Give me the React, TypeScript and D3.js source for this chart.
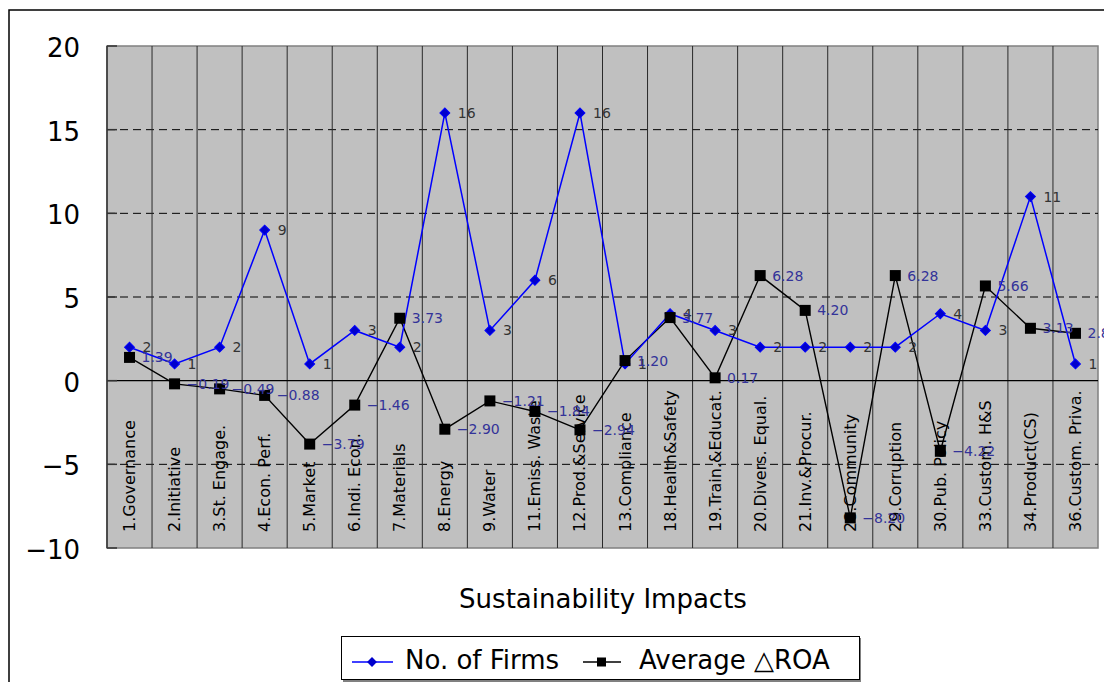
import React from "react";
import * as d3 from "d3";

const categories = [
  "1.Governance", "2.Initiative", "3.St. Engage.", "4.Econ. Perf.", "5.Market",
  "6.Indi. Econ.", "7.Materials", "8.Energy", "9.Water", "11.Emiss. Waste",
  "12.Prod.&Service", "13.Compliance", "18.Health&Safety", "19.Train.&Educat.",
  "20.Divers. Equal.", "21.Inv.&Procur.", "28.Community", "29.Corruption",
  "30.Pub. Policy", "33.Custom. H&S", "34.Product(CS)", "36.Custom. Priva.",
];
const firms = [2, 1, 2, 9, 1, 3, 2, 16, 3, 6, 16, 1, 4, 3, 2, 2, 2, 2, 4, 3, 11, 1];
const avgRoa = [
  1.39, -0.19, -0.49, -0.88, -3.79, -1.46, 3.73, -2.9, -1.21, -1.84, -2.94, 1.2,
  3.77, 0.17, 6.28, 4.2, -8.2, 6.28, -4.22, 5.66, 3.13, 2.83,
];
const yTicks = [20, 15, 10, 5, 0, -5, -10];
const dashedTicks = [15, 10, 5, -5];

const W = 1104;
const H = 682;
const PL = 107;
const PR = 1098;
const PT = 46;
const PB = 548;
const FONT = "'DejaVu Sans', sans-serif";

export default function App() {
  const x = d3.scaleBand<string>().domain(categories).range([PL, PR]).padding(0);
  const y = d3.scaleLinear().domain([-10, 20]).range([PB, PT]);
  const cx = (i: number) => (x(categories[i]) as number) + x.bandwidth() / 2;

  const line = d3
    .line<number>()
    .x((_, i) => cx(i))
    .y((d) => y(d));

  const boundaries = categories.slice(1).map((c) => x(c) as number);
  const fmtMinus = (v: number) => d3.format(".2f")(v).replace("-", "\u2212");

  return (
    <svg
      width={W}
      height={H}
      style={{ position: "absolute", left: 0, top: 0, background: "#fff" }}
      fontFamily={FONT}
    >
      {/* outer frame */}
      <rect x={9} y={10} width={1300} height={900} fill="none" stroke="#000" strokeWidth={1.5} />

      {/* plot area */}
      <rect x={PL} y={PT} width={PR - PL} height={PB - PT} fill="#c0c0c0" stroke="#808080" strokeWidth={1.5} />

      {/* dashed gridlines */}
      {dashedTicks.map((t) => (
        <line key={"g" + t} x1={PL} x2={PR} y1={y(t)} y2={y(t)} stroke="#000" strokeWidth={1} strokeDasharray="8,5" />
      ))}

      {/* vertical category separators */}
      {boundaries.map((b, i) => (
        <line key={"v" + i} x1={b} x2={b} y1={PT} y2={PB} stroke="#2a2a2a" strokeWidth={1} />
      ))}

      {/* zero line */}
      <line x1={PL} x2={PR} y1={y(0)} y2={y(0)} stroke="#000" strokeWidth={1.2} />

      {/* y axis line and ticks */}
      <line x1={PL} x2={PL} y1={PT} y2={PB} stroke="#333" strokeWidth={1.5} />
      {yTicks.map((t) => (
        <g key={"t" + t}>
          <line x1={PL} x2={PL + 10} y1={y(t)} y2={y(t)} stroke="#333" strokeWidth={1.5} />
          <text x={80} y={y(t) + 2} textAnchor="end" dominantBaseline="central" fontSize={26} fill="#000">
            {t < 0 ? "\u2212" + Math.abs(t) : String(t)}
          </text>
        </g>
      ))}

      {/* category labels */}
      {categories.map((c, i) => (
        <text
          key={"c" + i}
          x={cx(i)}
          y={532}
          transform={`rotate(-90, ${cx(i)}, 532)`}
          textAnchor="start"
          dominantBaseline="central"
          fontSize={16}
          fill="#000"
        >
          {c}
        </text>
      ))}

      {/* Average ROA line */}
      <path d={line(avgRoa) as string} fill="none" stroke="#000" strokeWidth={1.4} />
      {/* Firms line */}
      <path d={line(firms) as string} fill="none" stroke="#0000ff" strokeWidth={1.5} />

      {/* Firms markers */}
      {firms.map((v, i) => (
        <rect
          key={"fm" + i}
          x={cx(i) - 3.5}
          y={y(v) - 3.5}
          width={7}
          height={7}
          fill="#0000cc"
          stroke="#0000ff"
          strokeWidth={1}
          transform={`rotate(45, ${cx(i)}, ${y(v)})`}
        />
      ))}
      {/* ROA markers */}
      {avgRoa.map((v, i) => (
        <rect key={"rm" + i} x={cx(i) - 5.5} y={y(v) - 5.5} width={11} height={11} fill="#000" />
      ))}

      {/* Firms labels */}
      {firms.map((v, i) => (
        <text key={"fl" + i} x={cx(i) + 13} y={y(v)} dominantBaseline="central" fontSize={14} fill="#333">
          {v}
        </text>
      ))}
      {/* ROA labels */}
      {avgRoa.map((v, i) => (
        <text key={"rl" + i} x={cx(i) + 12} y={y(v)} dominantBaseline="central" fontSize={14} fill="#333399">
          {fmtMinus(v)}
        </text>
      ))}

      {/* axis title */}
      <text x={603} y={608} textAnchor="middle" fontSize={26} fill="#000">
        Sustainability Impacts
      </text>

      {/* legend */}
      <rect x={343} y={638} width={518} height={44} fill="#808080" />
      <rect x={341.5} y={636.5} width={518} height={43} fill="#fff" stroke="#000" strokeWidth={1} />
      <line x1={352} x2={393} y1={662} y2={662} stroke="#0000ff" strokeWidth={1.5} />
      <rect x={368.5} y={658.5} width={7} height={7} fill="#0000cc" transform="rotate(45, 372, 662)" />
      <text x={405} y={669} fontSize={26} fill="#000">No. of Firms</text>
      <line x1={583} x2={621} y1={662} y2={662} stroke="#000" strokeWidth={1.5} />
      <rect x={597} y={657.5} width={9} height={9} fill="#000" />
      <text x={639} y={669} fontSize={26} fill="#000">Average {"\u25B3"}ROA</text>
    </svg>
  );
}
